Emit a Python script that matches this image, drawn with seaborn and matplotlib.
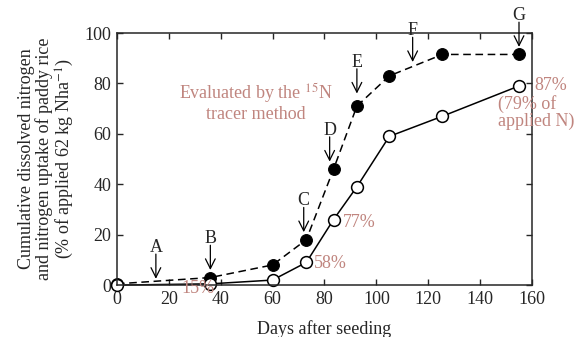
import pandas as pd
import matplotlib.pyplot as plt
import seaborn as sns

# data
days = [0, 36, 60, 73, 83.5, 92.5, 105, 125.5, 155]
tracer_n = [0.5, 3, 8, 18, 46, 71, 83, 91.5, 91.5]
uptake_n = [0, 0.5, 2, 9, 26, 39, 59, 67, 79]

stage_labels = ['A', 'B', 'C', 'D', 'E', 'F', 'G']
stage_days = [15, 36, 72, 82, 92.5, 114, 155]
stage_tips = [2.5, 6, 21, 49, 76, 88.5, 94.5]

pct_labels = ['15%', '58%', '77%', '87%', '(79% of\napplied N)']
pct_x = [25, 76, 87, 161, 147]
pct_y = [-1.3, 8.7, 25, 79, 68.5]

pink = '#c0857f'

sns.set_style('ticks')
plt.rcParams['font.family'] = ['Liberation Serif', 'DejaVu Serif']
plt.rcParams['mathtext.fontset'] = 'stix'

df = pd.DataFrame({'day': days, 'tracer': tracer_n, 'uptake': uptake_n})

fig = plt.figure(figsize=(5.84, 3.37), dpi=100)
ax = fig.add_axes([0.2003, 0.154, 0.7106, 0.748])

sns.lineplot(data=df, x='day', y='tracer', ax=ax, color='black', lw=1.1,
             linestyle=(0, (5, 3)), marker='o', markersize=8.5,
             markerfacecolor='black', markeredgecolor='black', clip_on=False)
sns.lineplot(data=df, x='day', y='uptake', ax=ax, color='black', lw=1.1,
             marker='o', markersize=8.5, markerfacecolor='white',
             markeredgecolor='black', markeredgewidth=1.1, clip_on=False)

ax.set_xlim(0, 160)
ax.set_ylim(0, 100)
ax.set_xticks(range(0, 161, 20))
ax.set_yticks(range(0, 101, 20))
ax.tick_params(direction='in', top=True, right=True, labelsize=13, length=4,
               width=1, pad=4)
for s in ax.spines.values():
    s.set_linewidth(1.1)

# growth stage arrows
for lab, d, tip in zip(stage_labels, stage_days, stage_tips):
    ax.text(d, tip + 12.5, lab, ha='center', va='center', fontsize=13, clip_on=False)
    ax.annotate('', xy=(d, tip), xytext=(d, tip + 9.8), annotation_clip=False,
                arrowprops=dict(arrowstyle='->,head_length=0.7,head_width=0.35',
                                color='black', lw=0.9, shrinkA=0, shrinkB=0))

for t, x, y in zip(pct_labels, pct_x, pct_y):
    ax.text(x, y, t, color=pink, fontsize=13, ha='left', va='center',
            linespacing=0.95, clip_on=False)

ax.text(53.7, 72.6, 'Evaluated by the $^{15}$N\ntracer method', color=pink,
        fontsize=13, ha='center', va='center', linespacing=1.05)

ax.set_xlabel('Days after seeding', fontsize=13, labelpad=9)
ax.set_ylabel('Cumulative dissolved nitrogen\nand nitrogen uptake of paddy rice\n'
              '(% of applied 62 kg Nha$^{-1}$)', fontsize=13, linespacing=1.05,
              labelpad=6)

fig.savefig('out.png', dpi=100)
